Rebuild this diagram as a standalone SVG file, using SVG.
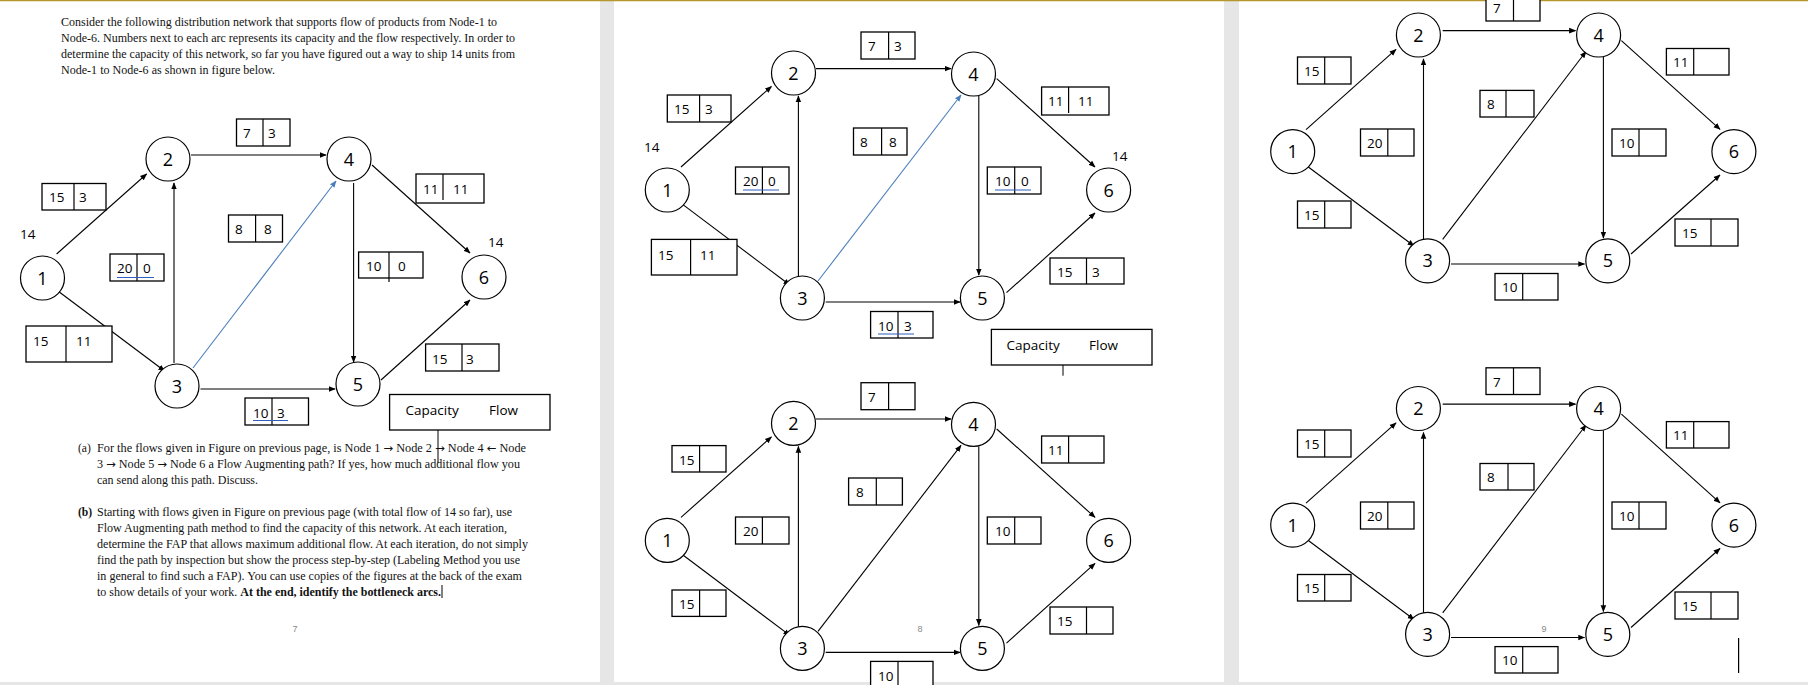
<svg xmlns="http://www.w3.org/2000/svg" width="1808" height="685" viewBox="0 0 1808 685">
<style>
.nd{fill:#fff;stroke:#000;stroke-width:1.2}
.nt{font-family:"Open Sans","Liberation Sans",sans-serif;font-size:18px;text-anchor:middle;fill:#000}
.bx{fill:#fff;stroke:#000;stroke-width:1.3}
.dv{stroke:#000;stroke-width:1.2}
.bt{font-family:"Open Sans","Liberation Sans",sans-serif;font-size:13.5px;fill:#000}
.ed{stroke:#000;stroke-width:1.1;fill:none;marker-end:url(#ah)}
.eb{stroke:#4a7ebb;stroke-width:1.1;fill:none;marker-end:url(#ahb)}
.ul{stroke:#3060c0;stroke-width:1.2}
.pt{font-family:"Liberation Serif",serif;font-size:11.6px;fill:#111}
.ar{font-family:"DejaVu Sans",sans-serif;font-size:11px}
.pn{font-family:"Liberation Sans",sans-serif;font-size:9px;fill:#888;text-anchor:middle}
</style>
<defs>
<marker id="ah" viewBox="0 0 10 10" refX="9" refY="5" markerWidth="7" markerHeight="7" orient="auto" markerUnits="userSpaceOnUse"><path d="M0,1 L10,5 L0,9 z" fill="#000"/></marker>
<marker id="ahb" viewBox="0 0 10 10" refX="9" refY="5" markerWidth="7" markerHeight="7" orient="auto" markerUnits="userSpaceOnUse"><path d="M0,1 L10,5 L0,9 z" fill="#4a7ebb"/></marker>
</defs>
<rect x="0" y="0" width="1808" height="685" fill="#e6e6e6"/>
<rect x="0" y="0" width="600" height="682" fill="#fff"/>
<rect x="614" y="0" width="610" height="682" fill="#fff"/>
<rect x="1239" y="0" width="569" height="682" fill="#fff"/>
<line x1="0" y1="0.5" x2="1808" y2="0.5" stroke="#b8962e" stroke-width="1.5"/>

<!-- page 1 text -->
<g id="p1text">
<text class="pt" x="61" y="26" textLength="436" lengthAdjust="spacingAndGlyphs">Consider the following distribution network that supports flow of products from Node-1 to</text>
<text class="pt" x="61" y="42" textLength="454" lengthAdjust="spacingAndGlyphs">Node-6. Numbers next to each arc represents its capacity and the flow respectively. In order to</text>
<text class="pt" x="61" y="58" textLength="454" lengthAdjust="spacingAndGlyphs">determine the capacity of this network, so far you have figured out a way to ship 14 units from</text>
<text class="pt" x="61" y="74" textLength="214" lengthAdjust="spacingAndGlyphs">Node-1 to Node-6 as shown in figure below.</text>
<text class="pt" x="78" y="452">(a)</text>
<text class="pt" x="97" y="452" textLength="429" lengthAdjust="spacingAndGlyphs">For the flows given in Figure on previous page, is Node 1 <tspan class="ar">→</tspan>  Node 2 <tspan class="ar">→</tspan> Node 4 <tspan class="ar">←</tspan> Node</text>
<text class="pt" x="97" y="468" textLength="423" lengthAdjust="spacingAndGlyphs">3 <tspan class="ar">→</tspan> Node 5 <tspan class="ar">→</tspan> Node 6 a Flow Augmenting path? If yes, how much additional flow you</text>
<text class="pt" x="97" y="484" textLength="161" lengthAdjust="spacingAndGlyphs">can send along this path. Discuss.</text>
<text class="pt" x="78" y="516" font-weight="bold">(b)</text>
<text class="pt" x="97" y="516" textLength="415" lengthAdjust="spacingAndGlyphs">Starting with flows given in Figure on previous page (with total flow of 14 so far), use</text>
<text class="pt" x="97" y="532" textLength="410" lengthAdjust="spacingAndGlyphs">Flow Augmenting path method to find the capacity of this network. At each iteration,</text>
<text class="pt" x="97" y="548" textLength="431" lengthAdjust="spacingAndGlyphs">determine the FAP that allows maximum additional flow. At each iteration, do not simply</text>
<text class="pt" x="97" y="564" textLength="423" lengthAdjust="spacingAndGlyphs">find the path by inspection but show the process step-by-step (Labeling Method you use</text>
<text class="pt" x="97" y="580" textLength="425" lengthAdjust="spacingAndGlyphs">in general to find such a FAP). You can use copies of the figures at the back of the exam</text>
<text class="pt" x="97" y="596" textLength="344" lengthAdjust="spacingAndGlyphs">to show details of your work. <tspan font-weight="bold">At the end, identify the bottleneck arcs.</tspan></text>
<line x1="442" y1="585" x2="442" y2="598" stroke="#000" stroke-width="1"/>
<text class="pn" x="295" y="632">7</text>
<text class="pn" x="920" y="632">8</text>
<text class="pn" x="1544" y="632">9</text>
<line x1="1738.6" y1="638" x2="1738.6" y2="673" stroke="#000" stroke-width="1.2"/>
</g>

<!-- connectors -->
<g id="connectors">
<line class="ed" x1="56.6" y1="254" x2="146.6" y2="174"/>
<line class="ed" x1="56.6" y1="290" x2="164.6" y2="371"/>
<line class="ed" x1="191" y1="155" x2="326" y2="155"/>
<line class="ed" x1="174" y1="363" x2="174" y2="183"/>
<line class="eb" x1="193" y1="368" x2="336" y2="181"/>
<line class="ed" x1="372" y1="165" x2="470" y2="253"/>
<line class="ed" x1="353.6" y1="183" x2="353.6" y2="362"/>
<line class="ed" x1="200.5" y1="389" x2="335" y2="389"/>
<line class="ed" x1="381" y1="380" x2="470" y2="300"/>
<line x1="438" y1="426" x2="438" y2="463" stroke="#000" stroke-width="1"/>
<line class="ed" x1="681" y1="167" x2="771.4" y2="86.5"/>
<line class="ed" x1="681.6" y1="203.6" x2="789.8" y2="285"/>
<line class="ed" x1="816" y1="68.6" x2="951" y2="68.6"/>
<line class="ed" x1="798.4" y1="276" x2="798.4" y2="96"/>
<line class="eb" x1="818" y1="281" x2="961" y2="95"/>
<line class="ed" x1="996.7" y1="78.6" x2="1095" y2="167"/>
<line class="ed" x1="978.8" y1="96" x2="978.8" y2="275"/>
<line class="ed" x1="825.7" y1="302" x2="960" y2="302"/>
<line class="ed" x1="1006.5" y1="292.7" x2="1095" y2="213"/>
<line x1="1063" y1="338.6" x2="1063" y2="375.7" stroke="#000" stroke-width="1"/>
<line class="ed" x1="681" y1="517.4" x2="771.4" y2="436.9"/>
<line class="ed" x1="681.6" y1="554" x2="789.8" y2="635.4"/>
<line class="ed" x1="816" y1="419" x2="951" y2="419"/>
<line class="ed" x1="798.4" y1="626.4" x2="798.4" y2="446.4"/>
<line class="ed" x1="818" y1="631.4" x2="961" y2="445.4"/>
<line class="ed" x1="996.7" y1="429" x2="1095" y2="517.4"/>
<line class="ed" x1="978.8" y1="446.4" x2="978.8" y2="625.4"/>
<line class="ed" x1="825.7" y1="652.4" x2="960" y2="652.4"/>
<line class="ed" x1="1006.5" y1="643.1" x2="1095" y2="563.4"/>
<line class="ed" x1="1306" y1="129.7" x2="1396" y2="49.4"/>
<line class="ed" x1="1307" y1="166" x2="1414" y2="246"/>
<line class="ed" x1="1442.7" y1="30.6" x2="1575.4" y2="30.6"/>
<line class="ed" x1="1423.5" y1="239.4" x2="1423.5" y2="59"/>
<line class="ed" x1="1442.7" y1="239.4" x2="1586" y2="51.5"/>
<line class="ed" x1="1621.4" y1="40.6" x2="1720" y2="129.3"/>
<line class="ed" x1="1603.4" y1="57" x2="1603.4" y2="238"/>
<line class="ed" x1="1451" y1="264" x2="1584.6" y2="264"/>
<line class="ed" x1="1631" y1="254" x2="1720" y2="175"/>
<line class="ed" x1="1306" y1="503.2" x2="1396" y2="422.9"/>
<line class="ed" x1="1307" y1="539.5" x2="1414" y2="619.5"/>
<line class="ed" x1="1442.7" y1="404.1" x2="1575.4" y2="404.1"/>
<line class="ed" x1="1423.5" y1="612.9" x2="1423.5" y2="432.5"/>
<line class="ed" x1="1442.7" y1="612.9" x2="1586" y2="425"/>
<line class="ed" x1="1621.4" y1="414.1" x2="1720" y2="502.8"/>
<line class="ed" x1="1603.4" y1="430.5" x2="1603.4" y2="611.5"/>
<line class="ed" x1="1451" y1="637.5" x2="1584.6" y2="637.5"/>
<line class="ed" x1="1631" y1="627.5" x2="1720" y2="548.5"/>
</g>

<g id="p1-n1"><circle class="nd" cx="42.5" cy="278" r="22"/><text class="nt" x="42.5" y="284.5">1</text></g>
<g id="p1-n2"><circle class="nd" cx="168" cy="159" r="22"/><text class="nt" x="168" y="165.5">2</text></g>
<g id="p1-n3"><circle class="nd" cx="177" cy="386" r="22"/><text class="nt" x="177" y="392.5">3</text></g>
<g id="p1-n4"><circle class="nd" cx="349" cy="159" r="22"/><text class="nt" x="349" y="165.5">4</text></g>
<g id="p1-n5"><circle class="nd" cx="358" cy="384" r="22"/><text class="nt" x="358" y="390.5">5</text></g>
<g id="p1-n6"><circle class="nd" cx="484" cy="277" r="22"/><text class="nt" x="484" y="283.5">6</text></g>
<g id="p1-labels">
<text class="bt" x="20" y="239">14</text>
<text class="bt" x="488" y="247">14</text>
<rect class="bx" x="236.5" y="119" width="53.5" height="27"/><line class="dv" x1="263" y1="119" x2="263" y2="146"/><text class="bt" x="243" y="138">7</text><text class="bt" x="268" y="138">3</text>
<rect class="bx" x="42" y="183.5" width="64" height="26.5"/><line class="dv" x1="74" y1="183.5" x2="74" y2="210"/><text class="bt" x="49" y="202">15</text><text class="bt" x="79" y="202">3</text>
<rect class="bx" x="228.5" y="215" width="54" height="27"/><line class="dv" x1="255.6" y1="215" x2="255.6" y2="242"/><text class="bt" x="235" y="234">8</text><text class="bt" x="264" y="234">8</text>
<rect class="bx" x="110" y="254" width="54" height="27"/><line class="dv" x1="137" y1="254" x2="137" y2="281"/><text class="bt" x="117" y="273">20</text><text class="bt" x="143" y="273">0</text><line class="ul" x1="117" y1="277.5" x2="154" y2="277.5"/>
<rect class="bx" x="416" y="174" width="68" height="29"/><line class="dv" x1="443" y1="174" x2="443" y2="200"/><text class="bt" x="423" y="194">11</text><text class="bt" x="453" y="194">11</text>
<rect class="bx" x="358.6" y="252" width="64.4" height="26"/><line class="dv" x1="389" y1="252" x2="389" y2="282"/><text class="bt" x="366" y="271">10</text><text class="bt" x="398" y="271">0</text>
<rect class="bx" x="26" y="326" width="86" height="36"/><line class="dv" x1="66" y1="326" x2="66" y2="362"/><text class="bt" x="33" y="346">15</text><text class="bt" x="76" y="346">11</text>
<rect class="bx" x="425.6" y="344" width="73.4" height="27"/><line class="dv" x1="462" y1="344" x2="462" y2="371"/><text class="bt" x="432" y="364">15</text><text class="bt" x="466" y="364">3</text>
<rect class="bx" x="245" y="398" width="63.5" height="27"/><line class="dv" x1="272" y1="398" x2="272" y2="425"/><text class="bt" x="253" y="418">10</text><text class="bt" x="277" y="418">3</text><line class="ul" x1="253" y1="420.5" x2="288" y2="420.5"/>
<rect class="bx" x="389.6" y="394.5" width="160.4" height="35.5"/><text class="bt" x="405.6" y="415" font-size="14.5">Capacity</text><text class="bt" x="489" y="415" font-size="14.5">Flow</text>
</g>

<g id="p2a-n1"><circle class="nd" cx="667.3" cy="190" r="22"/><text class="nt" x="667.3" y="196.5">1</text></g>
<g id="p2a-n2"><circle class="nd" cx="793.5" cy="73" r="22"/><text class="nt" x="793.5" y="79.5">2</text></g>
<g id="p2a-n3"><circle class="nd" cx="802.4" cy="298" r="22"/><text class="nt" x="802.4" y="304.5">3</text></g>
<g id="p2a-n4"><circle class="nd" cx="973.5" cy="74" r="22"/><text class="nt" x="973.5" y="80.5">4</text></g>
<g id="p2a-n5"><circle class="nd" cx="982.4" cy="298" r="22"/><text class="nt" x="982.4" y="304.5">5</text></g>
<g id="p2a-n6"><circle class="nd" cx="1108.6" cy="190" r="22"/><text class="nt" x="1108.6" y="196.5">6</text></g>
<g id="p2a-labels">
<text class="bt" x="644" y="152">14</text>
<text class="bt" x="1112" y="161">14</text>
<rect class="bx" x="861" y="32" width="54" height="27"/><line class="dv" x1="888.6" y1="32" x2="888.6" y2="59"/><text class="bt" x="868" y="51">7</text><text class="bt" x="894" y="51">3</text>
<rect class="bx" x="667.3" y="95" width="63.7" height="27"/><line class="dv" x1="699.6" y1="95" x2="699.6" y2="122"/><text class="bt" x="674" y="114">15</text><text class="bt" x="705" y="114">3</text>
<rect class="bx" x="853.5" y="128" width="53.5" height="27"/><line class="dv" x1="881.6" y1="128" x2="881.6" y2="155"/><text class="bt" x="860" y="147">8</text><text class="bt" x="889" y="147">8</text>
<rect class="bx" x="735.5" y="167" width="53.5" height="27"/><line class="dv" x1="762.4" y1="167" x2="762.4" y2="194"/><text class="bt" x="743" y="186">20</text><text class="bt" x="768" y="186">0</text><line class="ul" x1="743" y1="190" x2="779" y2="190"/>
<rect class="bx" x="1041.6" y="87" width="67.4" height="28"/><line class="dv" x1="1068.6" y1="87" x2="1068.6" y2="113"/><text class="bt" x="1048" y="106">11</text><text class="bt" x="1078" y="106">11</text>
<rect class="bx" x="987.3" y="167" width="53.7" height="27"/><line class="dv" x1="1014.7" y1="167" x2="1014.7" y2="194"/><text class="bt" x="995" y="186">10</text><text class="bt" x="1021" y="186">0</text><line class="ul" x1="995" y1="190" x2="1031" y2="190"/>
<rect class="bx" x="651.4" y="239.4" width="85.6" height="35.6"/><line class="dv" x1="690.6" y1="239.4" x2="690.6" y2="275"/><text class="bt" x="658" y="260">15</text><text class="bt" x="700" y="260">11</text>
<rect class="bx" x="1050" y="258" width="74" height="26"/><line class="dv" x1="1086.5" y1="258" x2="1086.5" y2="284"/><text class="bt" x="1057" y="277">15</text><text class="bt" x="1092" y="277">3</text>
<rect class="bx" x="870.6" y="311.5" width="62.4" height="26.5"/><line class="dv" x1="898" y1="311.5" x2="898" y2="338"/><text class="bt" x="878" y="331">10</text><text class="bt" x="904" y="331">3</text><line class="ul" x1="878" y1="334" x2="914" y2="334"/>
<rect class="bx" x="991.4" y="329.4" width="160.6" height="35.6"/><text class="bt" x="1006.5" y="350" font-size="14.5">Capacity</text><text class="bt" x="1089" y="350" font-size="14.5">Flow</text>
</g>

<g id="p2b-n1"><circle class="nd" cx="667.3" cy="540.4" r="22"/><text class="nt" x="667.3" y="546.9">1</text></g>
<g id="p2b-n2"><circle class="nd" cx="793.5" cy="423.4" r="22"/><text class="nt" x="793.5" y="429.9">2</text></g>
<g id="p2b-n3"><circle class="nd" cx="802.4" cy="648.4" r="22"/><text class="nt" x="802.4" y="654.9">3</text></g>
<g id="p2b-n4"><circle class="nd" cx="973.5" cy="424.4" r="22"/><text class="nt" x="973.5" y="430.9">4</text></g>
<g id="p2b-n5"><circle class="nd" cx="982.4" cy="648.4" r="22"/><text class="nt" x="982.4" y="654.9">5</text></g>
<g id="p2b-n6"><circle class="nd" cx="1108.6" cy="540.4" r="22"/><text class="nt" x="1108.6" y="546.9">6</text></g>
<g id="p2b-labels">
<rect class="bx" x="861" y="382.7" width="54" height="27"/><line class="dv" x1="888.6" y1="382.7" x2="888.6" y2="409.7"/><text class="bt" x="868" y="401.5">7</text>
<rect class="bx" x="672" y="445.6" width="54" height="26.4"/><line class="dv" x1="699.6" y1="445.6" x2="699.6" y2="472"/><text class="bt" x="679" y="464.5">15</text>
<rect class="bx" x="848.6" y="478" width="53.8" height="27"/><line class="dv" x1="876.3" y1="478" x2="876.3" y2="505"/><text class="bt" x="856" y="497">8</text>
<rect class="bx" x="735.5" y="517" width="53.5" height="27"/><line class="dv" x1="762.4" y1="517" x2="762.4" y2="544"/><text class="bt" x="743" y="536">20</text>
<rect class="bx" x="1041.6" y="436" width="62.4" height="27"/><line class="dv" x1="1068.6" y1="436" x2="1068.6" y2="463"/><text class="bt" x="1048" y="455">11</text>
<rect class="bx" x="987.3" y="517" width="53.7" height="27"/><line class="dv" x1="1014.7" y1="517" x2="1014.7" y2="544"/><text class="bt" x="995" y="536">10</text>
<rect class="bx" x="672" y="590" width="54" height="26.4"/><line class="dv" x1="699.6" y1="590" x2="699.6" y2="616.4"/><text class="bt" x="679" y="609">15</text>
<rect class="bx" x="1050" y="607" width="63" height="27"/><line class="dv" x1="1086.5" y1="607" x2="1086.5" y2="634"/><text class="bt" x="1057" y="626">15</text>
<rect class="bx" x="870.6" y="661.4" width="62.4" height="30"/><line class="dv" x1="898" y1="661.4" x2="898" y2="690"/><text class="bt" x="878" y="681">10</text>
</g>

<g id="p3a-n1"><circle class="nd" cx="1292.7" cy="151.6" r="22"/><text class="nt" x="1292.7" y="158.1">1</text></g>
<g id="p3a-n2"><circle class="nd" cx="1418.4" cy="35" r="22"/><text class="nt" x="1418.4" y="41.5">2</text></g>
<g id="p3a-n3"><circle class="nd" cx="1427.6" cy="260.8" r="22"/><text class="nt" x="1427.6" y="267.3">3</text></g>
<g id="p3a-n4"><circle class="nd" cx="1598.6" cy="35" r="22"/><text class="nt" x="1598.6" y="41.5">4</text></g>
<g id="p3a-n5"><circle class="nd" cx="1607.8" cy="260.8" r="22"/><text class="nt" x="1607.8" y="267.3">5</text></g>
<g id="p3a-n6"><circle class="nd" cx="1733.9" cy="151.6" r="22"/><text class="nt" x="1733.9" y="158.1">6</text></g>
<g id="p3a-labels">
<rect class="bx" x="1486" y="-6" width="54" height="27"/><line class="dv" x1="1513.5" y1="-6" x2="1513.5" y2="21"/><text class="bt" x="1493" y="13">7</text>
<rect class="bx" x="1297.5" y="57" width="53.5" height="27"/><line class="dv" x1="1324.7" y1="57" x2="1324.7" y2="84"/><text class="bt" x="1304" y="76">15</text>
<rect class="bx" x="1480" y="90.4" width="54" height="26.6"/><line class="dv" x1="1506" y1="90.4" x2="1506" y2="117"/><text class="bt" x="1487" y="109">8</text>
<rect class="bx" x="1360.5" y="129" width="53.5" height="27"/><line class="dv" x1="1387.8" y1="129" x2="1387.8" y2="156"/><text class="bt" x="1367" y="148">20</text>
<rect class="bx" x="1666.4" y="48.5" width="62.6" height="26.5"/><line class="dv" x1="1693.7" y1="48.5" x2="1693.7" y2="75"/><text class="bt" x="1673" y="67">11</text>
<rect class="bx" x="1612" y="129" width="54" height="27"/><line class="dv" x1="1639" y1="129" x2="1639" y2="156"/><text class="bt" x="1619" y="148">10</text>
<rect class="bx" x="1297.5" y="201" width="53.5" height="27"/><line class="dv" x1="1324.7" y1="201" x2="1324.7" y2="228"/><text class="bt" x="1304" y="220">15</text>
<rect class="bx" x="1675" y="219" width="63" height="27"/><line class="dv" x1="1711" y1="219" x2="1711" y2="246"/><text class="bt" x="1682" y="238">15</text>
<rect class="bx" x="1495" y="273.5" width="63" height="26.5"/><line class="dv" x1="1522.7" y1="273.5" x2="1522.7" y2="300"/><text class="bt" x="1502" y="292">10</text>
</g>

<g id="p3b-n1"><circle class="nd" cx="1292.7" cy="525.1" r="22"/><text class="nt" x="1292.7" y="531.6">1</text></g>
<g id="p3b-n2"><circle class="nd" cx="1418.4" cy="408.5" r="22"/><text class="nt" x="1418.4" y="415">2</text></g>
<g id="p3b-n3"><circle class="nd" cx="1427.6" cy="634.3" r="22"/><text class="nt" x="1427.6" y="640.8">3</text></g>
<g id="p3b-n4"><circle class="nd" cx="1598.6" cy="408.5" r="22"/><text class="nt" x="1598.6" y="415">4</text></g>
<g id="p3b-n5"><circle class="nd" cx="1607.8" cy="634.3" r="22"/><text class="nt" x="1607.8" y="640.8">5</text></g>
<g id="p3b-n6"><circle class="nd" cx="1733.9" cy="525.1" r="22"/><text class="nt" x="1733.9" y="531.6">6</text></g>
<g id="p3b-labels">
<rect class="bx" x="1486" y="367.8" width="54" height="26.7"/><line class="dv" x1="1513.5" y1="367.8" x2="1513.5" y2="394.5"/><text class="bt" x="1493" y="386.5">7</text>
<rect class="bx" x="1297.5" y="430" width="53.5" height="27"/><line class="dv" x1="1324.7" y1="430" x2="1324.7" y2="457"/><text class="bt" x="1304" y="449">15</text>
<rect class="bx" x="1480" y="463.5" width="54" height="26.5"/><line class="dv" x1="1508" y1="463.5" x2="1508" y2="490"/><text class="bt" x="1487" y="482">8</text>
<rect class="bx" x="1360.5" y="502" width="53.5" height="27"/><line class="dv" x1="1387.8" y1="502" x2="1387.8" y2="529"/><text class="bt" x="1367" y="521">20</text>
<rect class="bx" x="1666.4" y="421.6" width="62.6" height="26.4"/><line class="dv" x1="1693.7" y1="421.6" x2="1693.7" y2="448"/><text class="bt" x="1673" y="440">11</text>
<rect class="bx" x="1612" y="502" width="54" height="27"/><line class="dv" x1="1639" y1="502" x2="1639" y2="529"/><text class="bt" x="1619" y="521">10</text>
<rect class="bx" x="1297.5" y="574.5" width="53.5" height="26.5"/><line class="dv" x1="1324.7" y1="574.5" x2="1324.7" y2="601"/><text class="bt" x="1304" y="593">15</text>
<rect class="bx" x="1675" y="592" width="63" height="27"/><line class="dv" x1="1711" y1="592" x2="1711" y2="619"/><text class="bt" x="1682" y="611">15</text>
<rect class="bx" x="1495" y="646.6" width="63" height="26.4"/><line class="dv" x1="1522.7" y1="646.6" x2="1522.7" y2="673"/><text class="bt" x="1502" y="665">10</text>
</g>
</svg>
